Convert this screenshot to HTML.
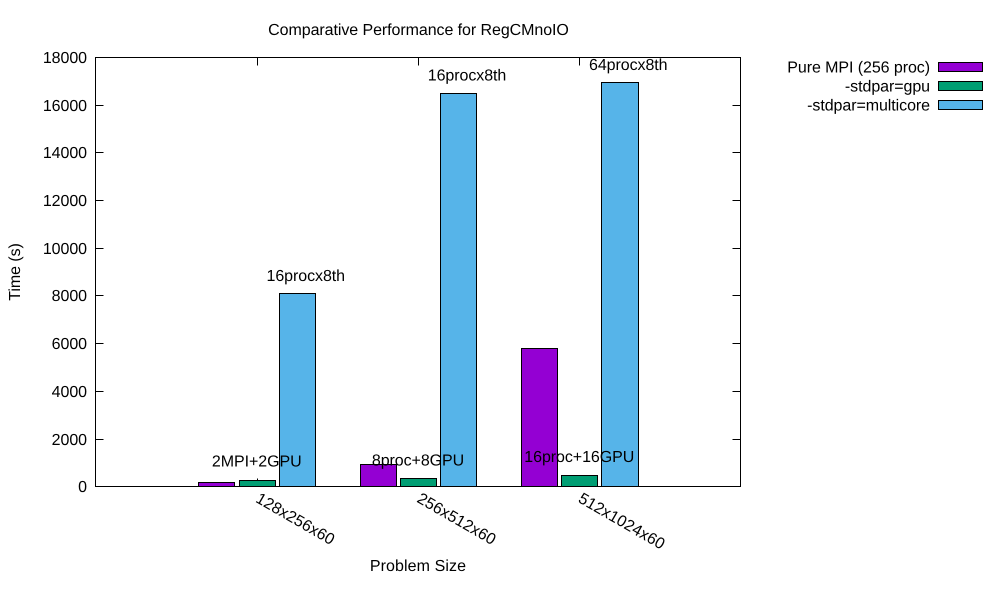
<!DOCTYPE html>
<html lang="en">
<head>
<meta charset="utf-8">
<title>Comparative Performance for RegCMnoIO</title>
<style>
html,body{margin:0;padding:0;background:#fff}
svg{display:block}
text{font-family:"Liberation Sans",sans-serif;font-size:16px;fill:#000;text-rendering:geometricPrecision;letter-spacing:-0.07px}
text.wide{letter-spacing:0.1px}
text.rot{letter-spacing:0.05px}
</style>
</head>
<body>
<svg id="chart" xmlns="http://www.w3.org/2000/svg" width="1000" height="600" viewBox="0 0 1000 600"></svg>
<script>
const categories = ["128x256x60", "256x512x60", "512x1024x60"];
const seriesNames = ["Pure MPI (256 proc)", "-stdpar=gpu", "-stdpar=multicore"];
const pureMpi = [180, 930, 5800];
const stdparGpu = [260, 370, 490];
const stdparMulticore = [8100, 16500, 16950];
const gpuLabels = ["2MPI+2GPU", "8proc+8GPU", "16proc+16GPU"];
const multicoreLabels = ["16procx8th", "16procx8th", "64procx8th"];
const yTicks = [0, 2000, 4000, 6000, 8000, 10000, 12000, 14000, 16000, 18000];

const seriesValues = [pureMpi, stdparGpu, stdparMulticore];
const seriesColors = ["#9400d3", "#009e73", "#56b4e9"];
const seriesKeys = ["pure-mpi", "stdpar-gpu", "stdpar-multicore"];

const svg = document.getElementById('chart');
const NS = 'http://www.w3.org/2000/svg';
const L = 95.5, R = 740.5, T = 57.5, B = 486.5;
const X_MIN = -1, X_MAX = 3, Y_MIN = 0, Y_MAX = 18000;
const BAR_OFFSET = 0.25, BAR_WIDTH = 0.2242;

function xScale(v) { return L + (v - X_MIN) / (X_MAX - X_MIN) * (R - L); }
function yScale(v) { return 486.85 - (v - Y_MIN) / (Y_MAX - Y_MIN) * 429.48; }
function xPixel(v) { return Math.floor(xScale(v) + 0.42) + 0.5; }
function yPixel(v) { return Math.floor(yScale(v)) + 0.5; }
function make(tag, attrs, text) {
  const el = document.createElementNS(NS, tag);
  for (const k in attrs) el.setAttribute(k, attrs[k]);
  if (text !== undefined) el.textContent = text;
  svg.appendChild(el);
  return el;
}
function tickPath(d) {
  return make('path', { d: d, fill: 'none', stroke: '#000', 'stroke-width': 1 });
}

// y ticks and labels
yTicks.forEach(function (t) {
  const y = yPixel(t);
  const tick = tickPath('M' + L + ' ' + y + 'h8M' + R + ' ' + y + 'h-8');
  
  
  const label = make('text', { x: 87, y: y + 5.5, 'text-anchor': 'end' }, String(t));
  
  
});

// x ticks
categories.forEach(function (c, i) {
  const x = xPixel(i);
  const tick = tickPath('M' + x + ' ' + B + 'v-8M' + x + ' ' + T + 'v8');
  
  
});

// bars
seriesValues.forEach(function (values, s) {
  values.forEach(function (v, i) {
    const center = i + (s - 1) * BAR_OFFSET;
    const x0 = xPixel(center - BAR_WIDTH / 2);
    const x1 = xPixel(center + BAR_WIDTH / 2);
    const y0 = yPixel(v);
    const bar = make('rect', { x: x0, y: y0, width: x1 - x0, height: B - y0, fill: seriesColors[s], stroke: '#000', 'stroke-width': 1 });
    
    
  });
});

// plot border
const border = make('rect', { x: L, y: T, width: R - L, height: B - T, fill: 'none', stroke: '#000', 'stroke-width': 1 });



// rotated category labels
categories.forEach(function (c, i) {
  const x = xScale(i) - 2;
  const label = make('text', { x: x, y: 501.5, class: 'rot', transform: 'rotate(30 ' + x + ' 501.5)' }, c);
  
  
});

// annotations above the green bars
gpuLabels.forEach(function (t, i) {
  const label = make('text', { x: xScale(i), y: yScale(stdparGpu[i]) - [14, 12.3, 13.2][i], 'text-anchor': 'middle' }, t);
  
  
});
multicoreLabels.forEach(function (t, i) {
  const label = make('text', { x: xScale(i + BAR_OFFSET) + 8.7, y: yScale(stdparMulticore[i]) - 12.5, 'text-anchor': 'middle' }, t);
  
  
});

// titles
const title = make('text', { x: 418.5, y: 35, 'text-anchor': 'middle' }, 'Comparative Performance for RegCMnoIO');


const xTitle = make('text', { x: 418, y: 571, class: 'wide', 'text-anchor': 'middle' }, 'Problem Size');


const yTitle = make('text', { x: 20, y: 272, 'text-anchor': 'middle', transform: 'rotate(-90 20 272)' }, 'Time (s)');



// legend
seriesNames.forEach(function (n, s) {
  const yc = 67 + s * 19;
  const label = make('text', { x: 930, y: yc + 5.5, 'text-anchor': 'end' }, n);
  
  
  const swatch = make('rect', { x: 938.5, y: yc - 4.5, width: 44, height: 9, fill: seriesColors[s], stroke: '#000', 'stroke-width': 1 });
  
  
});
</script>
</body>
</html>
